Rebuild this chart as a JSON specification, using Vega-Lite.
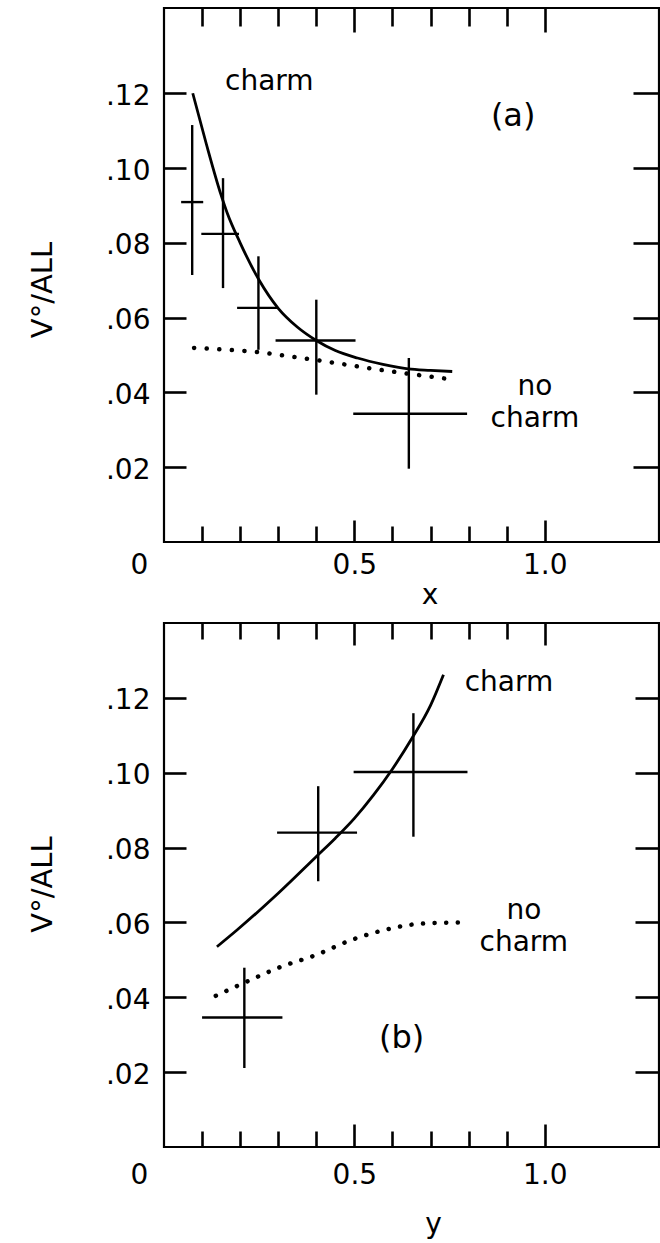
{
  "$schema": "https://vega.github.io/schema/vega-lite/v6.json",
  "padding": {"left": 26, "top": 5, "right": 0, "bottom": 0},
  "spacing": 9,
  "background": "white",
  "config": {
    "view": {"stroke": "black", "strokeWidth": 2.2},
    "font": "DejaVu Sans",
    "axis": {
      "grid": false, "domain": false, "tickColor": "black", "tickWidth": 2.6,
      "labelColor": "black", "labelFont": "DejaVu Sans", "labelFontSize": 28,
      "titleFont": "DejaVu Sans", "titleFontSize": 28, "titleFontWeight": "normal", "titleColor": "black",
      "labelFlush": false, "labelOverlap": false
    }
  },
  "datasets": {
    "a_pts": [
      {"x": 0.074, "y": 0.0909, "ylo": 0.0714, "yhi": 0.1115, "xlo": 0.045, "xhi": 0.103},
      {"x": 0.155, "y": 0.0824, "ylo": 0.0679, "yhi": 0.0973, "xlo": 0.098, "xhi": 0.197},
      {"x": 0.248, "y": 0.0626, "ylo": 0.0514, "yhi": 0.0764, "xlo": 0.192, "xhi": 0.299},
      {"x": 0.400, "y": 0.0539, "ylo": 0.0394, "yhi": 0.0648, "xlo": 0.293, "xhi": 0.503},
      {"x": 0.643, "y": 0.0343, "ylo": 0.0196, "yhi": 0.0492, "xlo": 0.497, "xhi": 0.796}
    ],
    "a_charm": [
      {"x": 0.0755, "y": 0.120}, {"x": 0.111, "y": 0.1065}, {"x": 0.1496, "y": 0.0929},
      {"x": 0.166, "y": 0.088}, {"x": 0.2, "y": 0.080}, {"x": 0.25, "y": 0.070},
      {"x": 0.3, "y": 0.0625}, {"x": 0.35, "y": 0.0575}, {"x": 0.4, "y": 0.0539},
      {"x": 0.45, "y": 0.0512}, {"x": 0.508, "y": 0.0492}, {"x": 0.575, "y": 0.0475},
      {"x": 0.641, "y": 0.0463}, {"x": 0.7, "y": 0.0459}, {"x": 0.757, "y": 0.0456}
    ],
    "a_nocharm": [
      {"x": 0.079, "y": 0.0519}, {"x": 0.15, "y": 0.0515}, {"x": 0.243, "y": 0.0508},
      {"x": 0.32, "y": 0.0498}, {"x": 0.397, "y": 0.0487}, {"x": 0.48, "y": 0.0474},
      {"x": 0.563, "y": 0.0461}, {"x": 0.65, "y": 0.0449}, {"x": 0.74, "y": 0.0437}
    ],
    "a_words": [
      {"x": 0.2766, "y": 0.1209, "text": "charm"},
      {"x": 0.974, "y": 0.0393, "text": ["no", "charm"]}
    ],
    "a_tag": [{"x": 0.917, "y": 0.1138, "text": "(a)"}],
    "b_pts": [
      {"x": 0.211, "y": 0.0346, "ylo": 0.0211, "yhi": 0.0479, "xlo": 0.100, "xhi": 0.311},
      {"x": 0.405, "y": 0.0840, "ylo": 0.0710, "yhi": 0.0964, "xlo": 0.297, "xhi": 0.507},
      {"x": 0.655, "y": 0.1002, "ylo": 0.0829, "yhi": 0.1159, "xlo": 0.498, "xhi": 0.797}
    ],
    "b_charm": [
      {"x": 0.139, "y": 0.0535}, {"x": 0.191, "y": 0.0579}, {"x": 0.3, "y": 0.0678},
      {"x": 0.399, "y": 0.0775}, {"x": 0.45, "y": 0.0825}, {"x": 0.5, "y": 0.0878},
      {"x": 0.55, "y": 0.0940}, {"x": 0.6, "y": 0.1010}, {"x": 0.65, "y": 0.1090},
      {"x": 0.7, "y": 0.1180}, {"x": 0.734, "y": 0.1262}
    ],
    "b_nocharm": [
      {"x": 0.136, "y": 0.0404}, {"x": 0.207, "y": 0.0437}, {"x": 0.306, "y": 0.0481},
      {"x": 0.399, "y": 0.0513}, {"x": 0.492, "y": 0.0553}, {"x": 0.58, "y": 0.058},
      {"x": 0.679, "y": 0.0597}, {"x": 0.783, "y": 0.060}
    ],
    "b_words": [
      {"x": 0.906, "y": 0.1218, "text": "charm"},
      {"x": 0.945, "y": 0.0609, "text": ["no", "charm"]}
    ],
    "b_tag": [{"x": 0.624, "y": 0.029, "text": "(b)"}]
  },
  "vconcat": [
    {
      "width": 495,
      "height": 534,
      "resolve": {"axis": {"x": "independent", "y": "independent"}},
      "layer": [
        {
          "data": {"name": "a_pts"},
          "mark": {"type": "rule", "strokeWidth": 2.4, "color": "black"},
          "encoding": {
            "x": {"field": "x", "type": "quantitative",
              "scale": {"domain": [0, 1.3], "nice": false, "zero": false},
              "axis": {
                "orient": "bottom",
                "values": [0, 0.1, 0.2, 0.3, 0.4, 0.5, 0.6, 0.7, 0.8, 0.9, 1],
                "tickSize": {"condition": {"test": "datum.value == 0 || datum.value == 0.5 || datum.value == 1", "value": -22}, "value": -16},
                "tickOpacity": {"condition": {"test": "datum.value == 0", "value": 0}, "value": 1},
                "labelExpr": "datum.value == 0 ? '0' : (datum.value == 0.5 || datum.value == 1) ? format(datum.value, '.1f') : ''",
                "labelOffset": {"condition": {"test": "datum.value == 0", "value": -25}, "value": 0},
                "labelPadding": 31.5,
                "title": "x", "titleX": 265.5, "titleY": 53, "titleBaseline": "middle"
              }},
            "y": {"field": "ylo", "type": "quantitative",
              "scale": {"domain": [0, 0.1428], "nice": false, "zero": false},
              "axis": {
                "orient": "left",
                "values": [0.02, 0.04, 0.06, 0.08, 0.1, 0.12],
                "tickSize": -22,
                "labelPadding": 36,
                "labelOffset": 3,
                "labelExpr": "replace(format(datum.value, '.2f'), '0.', '.')",
                "title": "V°/ALL", "titleAngle": -90, "titleX": -122, "titleY": 281.5, "titleBaseline": "middle", "titleFontSize": 29
              }},
            "y2": {"field": "yhi"}
          }
        },
        {
          "data": {"name": "a_pts"},
          "mark": {"type": "rule", "strokeWidth": 2.4, "color": "black"},
          "encoding": {
            "x": {"field": "xlo", "type": "quantitative",
              "axis": {
                "orient": "top",
                "values": [0.1, 0.2, 0.3, 0.4, 0.5, 0.6, 0.7, 0.8, 0.9, 1],
                "labels": false,
                "tickSize": {"condition": {"test": "datum.value == 0.5 || datum.value == 1", "value": -24}, "value": -18},
                "title": null
              }},
            "x2": {"field": "xhi"},
            "y": {"field": "y", "type": "quantitative",
              "axis": {
                "orient": "right",
                "values": [0.02, 0.04, 0.06, 0.08, 0.1, 0.12],
                "labels": false,
                "tickSize": -26,
                "title": null
              }}
          }
        },
        {
          "data": {"name": "a_charm"},
          "mark": {"type": "line", "color": "black", "strokeWidth": 2.8, "interpolate": "monotone"},
          "encoding": {
            "x": {"field": "x", "type": "quantitative", "axis": null},
            "y": {"field": "y", "type": "quantitative", "axis": null}
          }
        },
        {
          "data": {"name": "a_nocharm"},
          "mark": {"type": "line", "color": "black", "strokeWidth": 4.5, "strokeCap": "round", "strokeDash": [0.1, 12.5], "interpolate": "monotone"},
          "encoding": {
            "x": {"field": "x", "type": "quantitative", "axis": null},
            "y": {"field": "y", "type": "quantitative", "axis": null}
          }
        },
        {
          "data": {"name": "a_words"},
          "mark": {"type": "text", "font": "DejaVu Sans", "fontSize": 28, "color": "black", "align": "center", "baseline": "alphabetic", "lineHeight": 32},
          "encoding": {
            "x": {"field": "x", "type": "quantitative", "axis": null},
            "y": {"field": "y", "type": "quantitative", "axis": null},
            "text": {"field": "text"}
          }
        },
        {
          "data": {"name": "a_tag"},
          "mark": {"type": "text", "font": "DejaVu Sans", "fontSize": 32, "color": "black", "align": "center", "baseline": "middle"},
          "encoding": {
            "x": {"field": "x", "type": "quantitative", "axis": null},
            "y": {"field": "y", "type": "quantitative", "axis": null},
            "text": {"field": "text"}
          }
        }
      ]
    },
    {
      "width": 495,
      "height": 524,
      "resolve": {"axis": {"x": "independent", "y": "independent"}},
      "layer": [
        {
          "data": {"name": "b_pts"},
          "mark": {"type": "rule", "strokeWidth": 2.4, "color": "black"},
          "encoding": {
            "x": {"field": "x", "type": "quantitative",
              "scale": {"domain": [0, 1.3], "nice": false, "zero": false},
              "axis": {
                "orient": "bottom",
                "values": [0, 0.1, 0.2, 0.3, 0.4, 0.5, 0.6, 0.7, 0.8, 0.9, 1],
                "tickSize": {"condition": {"test": "datum.value == 0 || datum.value == 0.5 || datum.value == 1", "value": -23}, "value": -16},
                "tickOpacity": {"condition": {"test": "datum.value == 0", "value": 0}, "value": 1},
                "labelExpr": "datum.value == 0 ? '0' : (datum.value == 0.5 || datum.value == 1) ? format(datum.value, '.1f') : ''",
                "labelOffset": {"condition": {"test": "datum.value == 0", "value": -25}, "value": 0},
                "labelPadding": 37,
                "title": "y", "titleX": 269, "titleY": 77, "titleBaseline": "middle"
              }},
            "y": {"field": "ylo", "type": "quantitative",
              "scale": {"domain": [0, 0.14], "nice": false, "zero": false},
              "axis": {
                "orient": "left",
                "values": [0.02, 0.04, 0.06, 0.08, 0.1, 0.12],
                "tickSize": -22,
                "labelPadding": 36,
                "labelOffset": 3,
                "labelExpr": "replace(format(datum.value, '.2f'), '0.', '.')",
                "title": "V°/ALL", "titleAngle": -90, "titleX": -122, "titleY": 261, "titleBaseline": "middle", "titleFontSize": 29
              }},
            "y2": {"field": "yhi"}
          }
        },
        {
          "data": {"name": "b_pts"},
          "mark": {"type": "rule", "strokeWidth": 2.4, "color": "black"},
          "encoding": {
            "x": {"field": "xlo", "type": "quantitative",
              "axis": {
                "orient": "top",
                "values": [0.1, 0.2, 0.3, 0.4, 0.5, 0.6, 0.7, 0.8, 0.9, 1],
                "labels": false,
                "tickSize": {"condition": {"test": "datum.value == 0.5 || datum.value == 1", "value": -22}, "value": -16},
                "title": null
              }},
            "x2": {"field": "xhi"},
            "y": {"field": "y", "type": "quantitative",
              "axis": {
                "orient": "right",
                "values": [0.02, 0.04, 0.06, 0.08, 0.1, 0.12],
                "labels": false,
                "tickSize": -24,
                "title": null
              }}
          }
        },
        {
          "data": {"name": "b_charm"},
          "mark": {"type": "line", "color": "black", "strokeWidth": 2.8, "interpolate": "monotone"},
          "encoding": {
            "x": {"field": "x", "type": "quantitative", "axis": null},
            "y": {"field": "y", "type": "quantitative", "axis": null}
          }
        },
        {
          "data": {"name": "b_nocharm"},
          "mark": {"type": "line", "color": "black", "strokeWidth": 4.5, "strokeCap": "round", "strokeDash": [0.1, 11.5], "interpolate": "monotone"},
          "encoding": {
            "x": {"field": "x", "type": "quantitative", "axis": null},
            "y": {"field": "y", "type": "quantitative", "axis": null}
          }
        },
        {
          "data": {"name": "b_words"},
          "mark": {"type": "text", "font": "DejaVu Sans", "fontSize": 28, "color": "black", "align": "center", "baseline": "alphabetic", "lineHeight": 32},
          "encoding": {
            "x": {"field": "x", "type": "quantitative", "axis": null},
            "y": {"field": "y", "type": "quantitative", "axis": null},
            "text": {"field": "text"}
          }
        },
        {
          "data": {"name": "b_tag"},
          "mark": {"type": "text", "font": "DejaVu Sans", "fontSize": 32, "color": "black", "align": "center", "baseline": "middle"},
          "encoding": {
            "x": {"field": "x", "type": "quantitative", "axis": null},
            "y": {"field": "y", "type": "quantitative", "axis": null},
            "text": {"field": "text"}
          }
        }
      ]
    }
  ]
}
